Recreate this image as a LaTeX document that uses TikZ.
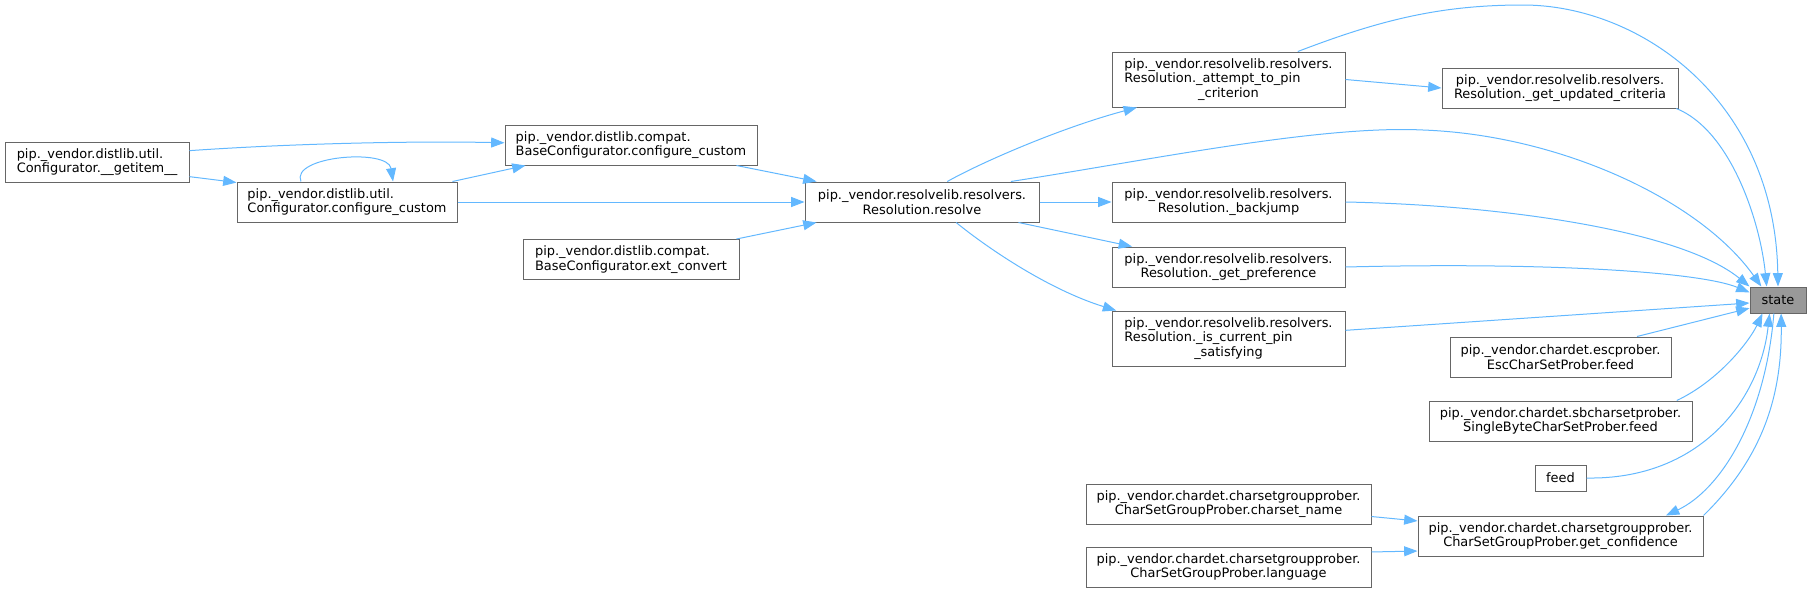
\documentclass[tikz,border=0pt]{standalone}
\usepackage{fontspec}
\setmainfont{DejaVu Sans}
\usetikzlibrary{arrows.meta}

\definecolor{edgeblue}{HTML}{63B8FF}
\definecolor{boxline}{HTML}{666666}
\definecolor{curfill}{HTML}{999999}

\newlength{\toplen}
\newcommand{\midline}[2]{\settowidth{\toplen}{#1}\makebox[\toplen]{#2}}

\tikzset{
    fn/.style={draw=boxline, line width=0.75pt, fill=white, inner sep=0pt,
        minimum height=30pt, align=center,
        font=\fontsize{9.7}{11}\selectfont},
    fnwide/.style={minimum width=#1*0.75pt},
    fntall/.style={minimum height=41.25pt},
    fnone/.style={minimum height=19.5pt},
    current/.style={fill=curfill},
    call/.style={draw=edgeblue, line width=0.75pt,
        -{Triangle[length=10pt,width=7.5pt]}}
}

\begin{document}
\begin{tikzpicture}[x=0.75pt, y=-0.75pt]
    \useasboundingbox (0,0) rectangle (1811,593);

    % distlib side
    \node[fn, fnwide=184, align=left] (getitem) at (97,162)
        {pip.\_vendor.distlib.util.\\Configurator.\_\_getitem\_\_};
    \node[fn, fnwide=220, align=left] (utilcc) at (347,202)
        {pip.\_vendor.distlib.util.\\Configurator.configure\_custom};
    \node[fn, fnwide=252, align=left] (compatcc) at (631,145)
        {pip.\_vendor.distlib.compat.\\BaseConfigurator.configure\_custom};
    \node[fn, fnwide=216, align=left] (extconvert) at (631,259.5)
        {pip.\_vendor.distlib.compat.\\BaseConfigurator.ext\_convert};

    % resolvelib
    \node[fn, fnwide=234] (resolve) at (922,202)
        {pip.\_vendor.resolvelib.resolvers.\\Resolution.resolve};
    \node[fn, fnwide=233, fntall, align=left] (attempt) at (1228.5,79.5)
        {pip.\_vendor.resolvelib.resolvers.\\Resolution.\_attempt\_to\_pin\\\midline{pip.\_vendor.resolvelib.resolvers.}{\_criterion}};
    \node[fn, fnwide=236] (updated) at (1560,88)
        {pip.\_vendor.resolvelib.resolvers.\\Resolution.\_get\_updated\_criteria};
    \node[fn, fnwide=233] (backjump) at (1228.5,202)
        {pip.\_vendor.resolvelib.resolvers.\\Resolution.\_backjump};
    \node[fn, fnwide=233] (getpref) at (1228.5,267)
        {pip.\_vendor.resolvelib.resolvers.\\Resolution.\_get\_preference};
    \node[fn, fnwide=233, fntall, align=left] (ispin) at (1228.5,338.5)
        {pip.\_vendor.resolvelib.resolvers.\\Resolution.\_is\_current\_pin\\\midline{pip.\_vendor.resolvelib.resolvers.}{\_satisfying}};

    % the function itself
    \node[fn, fnone, current, fnwide=56] (state) at (1778,300) {state};

    % chardet
    \node[fn, fnwide=221] (escfeed) at (1560.5,357)
        {pip.\_vendor.chardet.escprober.\\EscCharSetProber.feed};
    \node[fn, fnwide=263] (sbfeed) at (1560.5,421)
        {pip.\_vendor.chardet.sbcharsetprober.\\SingleByteCharSetProber.feed};
    \node[fn, fnone, fnwide=51] (feed) at (1560.5,478) {feed};
    \node[fn, fnwide=285] (getconf) at (1560.5,536)
        {pip.\_vendor.chardet.charsetgroupprober.\\CharSetGroupProber.get\_confidence};
    \node[fn, fnwide=285] (csname) at (1228.5,504)
        {pip.\_vendor.chardet.charsetgroupprober.\\CharSetGroupProber.charset\_name};
    \node[fn, fnwide=285] (language) at (1228.5,567)
        {pip.\_vendor.chardet.charsetgroupprober.\\CharSetGroupProber.language};

    % distlib calls
    \draw[call] (getitem.7) .. controls (300,143) and (420,141) .. (compatcc.179);
    \draw[call] (getitem.-9) -- (utilcc.170);
    \draw[call] (utilcc.156) .. controls (290,156) and (388,148) .. (utilcc.24);
    \draw[call] (utilcc.11) -- (compatcc.191);
    \draw[call] (utilcc.east) -- (resolve.west);
    \draw[call] (compatcc.-11) -- (resolve.169);
    \draw[call] (extconvert.11) -- (resolve.191);

    % resolvelib calls
    \draw[call] (resolve.39) .. controls (980,163) and (1060,128) .. (attempt.197);
    \draw[call] (resolve.east) -- (backjump.west);
    \draw[call] (resolve.-12) -- (getpref.168);
    \draw[call] (resolve.-31) .. controls (990,250) and (1050,290) .. (ispin.166);
    \draw[call] (attempt.east) -- (updated.west);

    % everything into state
    \draw[call] (resolve.13) .. controls (1150,160) and (1320,125) .. (1423,130)
        .. controls (1560,135) and (1700,200) .. (state.141);
    \draw[call] (attempt.22) .. controls (1380,20) and (1440,5) .. (1523,5)
        .. controls (1640,5) and (1775,100) .. (state.north);
    \draw[call] (updated.-10) .. controls (1730,130) and (1760,220) .. (state.130);
    \draw[call] (backjump.east) .. controls (1500,205) and (1680,230) .. (state.north west);
    \draw[call] (getpref.east) .. controls (1550,262) and (1700,272) .. (state.165);
    \draw[call] (ispin.4) -- (state.186);
    \draw[call] (escfeed.15) -- (state.196);
    \draw[call] (sbfeed.10) .. controls (1720,380) and (1750,340) .. (state.221);
    \draw[call] (feed.east) .. controls (1700,480) and (1760,400) .. (state.238);
    \draw[call] (getconf.north east) .. controls (1760,460) and (1782,400) .. (state.283);
    \draw[call] (state.253) .. controls (1765,420) and (1720,490) .. (getconf.11);

    % charsetgroupprober
    \draw[call] (csname.-5) -- (getconf.174);
    \draw[call] (language.6) -- (getconf.186);
\end{tikzpicture}
\end{document}
